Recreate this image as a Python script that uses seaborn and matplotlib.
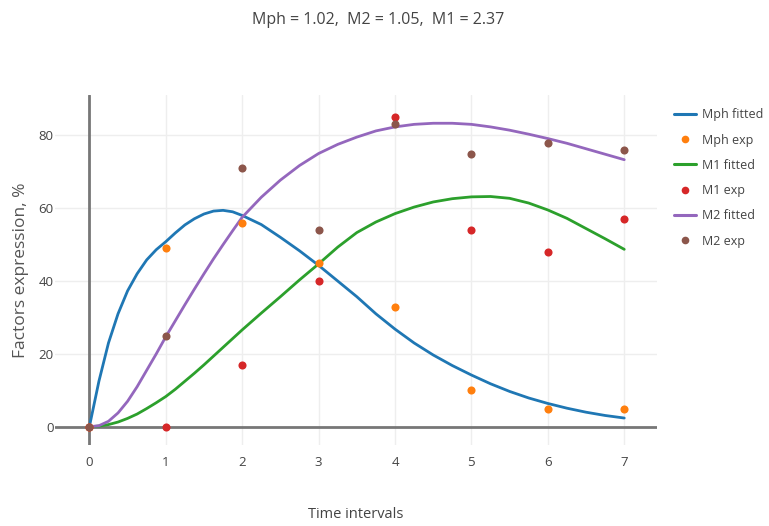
import numpy as np
import pandas as pd
import matplotlib
matplotlib.use("Agg")
import matplotlib.pyplot as plt
import seaborn as sns
from matplotlib.lines import Line2D

t_exp = [0, 1, 2, 3, 4, 5, 6, 7]
mph_exp = [0, 49, 56, 45, 33, 10, 5, 5]
m1_exp = [0, 0, 17, 40, 85, 54, 48, 57]
m2_exp = [0, 25, 71, 54, 83, 75, 78, 76]

# Fitted curves (finer steps where the curves bend fast)
t_fit = [0, 0.125, 0.25, 0.375, 0.5, 0.625, 0.75, 0.875, 1, 1.125, 1.25, 1.375, 1.5,
         1.625, 1.75, 1.875, 2, 2.25, 2.5, 2.75, 3, 3.25, 3.5, 3.75, 4, 4.25, 4.5,
         4.75, 5, 5.25, 5.5, 5.75, 6, 6.25, 6.5, 6.75, 7]
mph_fit = [0, 12.5, 23, 31, 37.3, 42, 45.8, 48.6, 50.8, 53.2, 55.4, 57.1, 58.4,
           59.2, 59.4, 59, 58, 55.5, 52, 48.3, 44.3, 40, 35.7, 31, 26.8, 23, 19.7,
           16.8, 14.2, 11.8, 9.7, 7.9, 6.4, 5.1, 4.0, 3.1, 2.4]
m1_fit = [0, 0.2, 0.6, 1.3, 2.3, 3.5, 5, 6.6, 8.3, 10.3, 12.5, 14.7, 17,
          19.4, 21.8, 24.2, 26.6, 31.2, 35.7, 40.3, 44.7, 49.3, 53.3, 56.2, 58.5, 60.3, 61.7,
          62.6, 63.1, 63.2, 62.7, 61.4, 59.5, 57.2, 54.4, 51.6, 48.7]
m2_fit = [0, 0.3, 1.5, 3.8, 7, 11, 15.5, 20, 24.7, 29.1, 33.5, 37.8, 42,
          46.1, 50, 53.8, 57.5, 63, 67.7, 71.7, 75, 77.5, 79.5, 81.2, 82.3, 83, 83.3,
          83.3, 83, 82.3, 81.4, 80.3, 79.1, 77.8, 76.3, 74.8, 73.3]

title_text = "Mph = 1.02,  M2 = 1.05,  M1 = 2.37"

sns.set_theme(style="white")
plt.rcParams["font.family"] = ["Open Sans", "DejaVu Sans"]

txt = "#444444"
fig = plt.figure(figsize=(7.69, 5.26), dpi=100)
ax = fig.add_axes([0.0715, 0.154, 0.783, 0.665])

# grid and zero lines
for x in range(0, 8):
    ax.axvline(x, color="#eeeeee", lw=1, zorder=0)
for y in [20, 40, 60, 80]:
    ax.axhline(y, color="#eeeeee", lw=1, zorder=0)
ax.axhline(0, color="#777777", lw=2, zorder=1)
ax.axvline(0, color="#777777", lw=2, zorder=1)

fits = pd.DataFrame({"t": t_fit, "Mph": mph_fit, "M1": m1_fit, "M2": m2_fit})
exps = pd.DataFrame({"t": t_exp, "Mph": mph_exp, "M1": m1_exp, "M2": m2_exp})

series = [("Mph", "#1f77b4", "#ff7f0e"),
          ("M1", "#2ca02c", "#d62728"),
          ("M2", "#9467bd", "#8c564b")]

handles = []
for name, lc, pc in series:
    sns.lineplot(data=fits, x="t", y=name, color=lc, linewidth=2, ax=ax, zorder=3)
    sns.scatterplot(data=exps, x="t", y=name, color=pc, s=34, linewidth=0, ax=ax, zorder=4)
    handles.append(Line2D([], [], color=lc, lw=2.2))
    handles.append(Line2D([], [], color=pc, lw=0, marker="o", markersize=5.5, markeredgewidth=0))

labels = ["Mph fitted", "Mph exp", "M1 fitted", "M1 exp", "M2 fitted", "M2 exp"]

ax.set_xlim(-0.45, 7.43)
ax.set_ylim(-5, 91)
ax.set_xticks(range(0, 8))
ax.set_yticks([0, 20, 40, 60, 80])
for s in ax.spines.values():
    s.set_visible(False)
ax.tick_params(axis="both", length=0, colors=txt, labelsize=9.5)
ax.tick_params(axis="x", pad=8)
ax.tick_params(axis="y", pad=1)
ax.set_xlabel("Time intervals", color=txt, fontsize=10.5, labelpad=27)
ax.set_ylabel("Factors expression, %", color="#555555", fontsize=12.5, labelpad=7)

fig.legend(handles, labels, loc="upper left", bbox_to_anchor=(0.876, 0.794),
           frameon=False, fontsize=9, labelcolor=txt, handlelength=1.8,
           handletextpad=0.5, labelspacing=0.98, borderaxespad=0, borderpad=0)

fig.text(0.492, 1 - 20 / 526, title_text, ha="center", va="center",
         fontsize=11.5, color=txt)

fig.savefig("out.png", dpi=100, facecolor="white")
